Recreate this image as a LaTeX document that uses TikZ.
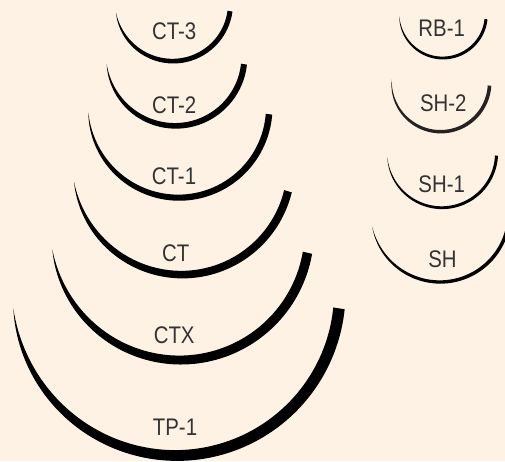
\documentclass[tikz,border=0pt]{standalone}
\usepackage{fontspec}
\newfontfamily\labelfont[FakeStretch=0.85]{Liberation Sans}
\definecolor{bgcream}{RGB}{254,242,228}
\definecolor{labelgray}{RGB}{51,51,51}
\definecolor{needlegray}{RGB}{38,34,34}
\tikzset{
  needlestyle/.style={fill=black},
  needlelabel/.style={anchor=base,inner sep=0pt,text=labelgray,font=\labelfont\fontsize{24}{28}\selectfont},
}
% #1 options, #2 cx, #3 cy, #4 r, #5 tip angle, #6 end angle, #7 max width
\newcommand\drawneedle[7][]{%
  \fill[needlestyle,#1]
    plot[domain=0:1,samples=100,variable=\s]
      ({#2+(#4+0.5*#7*(1-(1-\s)*(1-\s)*(1-\s)*(1-\s)))*cos(#5+(#6-#5)*\s)},
       {#3+(#4+0.5*#7*(1-(1-\s)*(1-\s)*(1-\s)*(1-\s)))*sin(#5+(#6-#5)*\s)})
    -- plot[domain=0:1,samples=100,variable=\s]
      ({#2+(#4-0.5*#7*(1-\s*\s*\s*\s))*cos(#6+(#5-#6)*\s)},
       {#3+(#4-0.5*#7*(1-\s*\s*\s*\s))*sin(#6+(#5-#6)*\s)})
    -- cycle;}
\begin{document}
\begin{tikzpicture}[x=1pt,y=-1pt]
  \clip (0,0) rectangle (505,461);
  \fill[bgcream] (0,0) rectangle (505,461);
  % left column
  \drawneedle{172.87}{3.54}{57.6}{170.85}{7.44}{5}
  \drawneedle{175.33}{56.8}{69.04}{173.76}{5.99}{6}
  \drawneedle{178.70}{107.13}{90.55}{176.73}{4.35}{6.5}
  \drawneedle{181.91}{165.49}{109.12}{171.46}{13.52}{8}
  \drawneedle{180.15}{230.86}{129.18}{171.79}{9.64}{9.5}
  \drawneedle{176.14}{291.83}{163.67}{174.22}{5.67}{11.5}
  % right column
  \drawneedle{442.76}{14.52}{43.48}{178.05}{5.92}{3}
  \drawneedle[fill=needlegray]{440.59}{82.70}{49.0}{183.98}{3.28}{3.6}
  \drawneedle{441.84}{152.99}{54.71}{175.48}{2.63}{3}
  \drawneedle{440}{212.8}{69.2}{168.5}{15}{3.5}
  % labels
  \node[needlelabel] (ct3) at (174.2,39.3) {CT-3};
  \node[needlelabel] (ct2) at (174.2,113.3) {CT-2};
  \node[needlelabel] (ct1) at (174.0,184.3) {CT-1};
  \node[needlelabel] (ct)  at (175.8,261.0) {CT};
  \node[needlelabel] (ctx) at (174.2,343.3) {CTX};
  \node[needlelabel] (tp1) at (175.0,435.7) {TP-1};
  \node[needlelabel] (rb1) at (441.7,36.7) {RB-1};
  \node[needlelabel] (sh2) at (443.3,111.7) {SH-2};
  \node[needlelabel] (sh1) at (441.7,192.3) {SH-1};
  \node[needlelabel] (sh)  at (442.5,267.3) {SH};
\end{tikzpicture}
\end{document}
